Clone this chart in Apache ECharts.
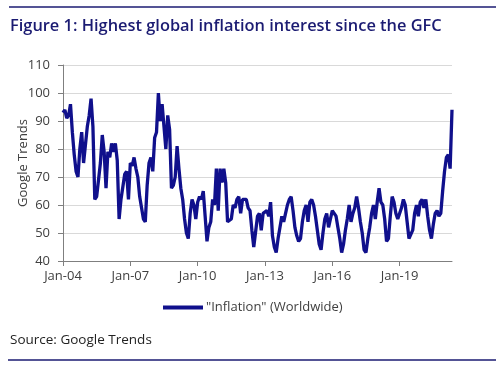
<!DOCTYPE html>
<html>
<head>
<meta charset="utf-8">
<script src="https://cdn.jsdelivr.net/npm/echarts@6/dist/echarts.min.js"></script>
<style>
html,body{margin:0;padding:0;background:#fff;}
#c{width:500px;height:367px;}
</style>
</head>
<body>
<div id="c"></div>
<script>
var titleText = 'Figure 1: Highest global inflation interest since the GFC';
var sourceText = 'Source: Google Trends';
var seriesName = '"Inflation" (Worldwide)';
var yAxisName = 'Google Trends';
var startYear = 2004;
var monthNames = ['Jan','Feb','Mar','Apr','May','Jun','Jul','Aug','Sep','Oct','Nov','Dec'];
var yTicks = [40, 50, 60, 70, 80, 90, 100, 110];
// monthly Google Trends values, Jan-04 .. May-21
var inflation = [
 93, 94, 91, 92, 96, 86, 78, 72, 70, 80, 86, 75,
 75, 88, 92, 98, 88, 62, 63, 63, 75, 85, 79, 66,
 79, 77, 82, 79, 82, 76, 55, 62, 62, 71, 72, 62,
 75, 74, 77, 73, 70, 63, 59, 55, 54, 67, 75, 77,
 72, 84, 86, 100, 90, 96, 88, 80, 92, 87, 66, 67,
 70, 81, 73, 66, 62, 55, 50, 48, 57, 62, 60, 55,
 61, 63, 62, 65, 56, 47, 52, 54, 62, 60, 73, 58,
 73, 68, 73, 68, 54, 54, 55, 60, 59, 62, 63, 57,
 62, 62, 62, 59, 58, 51, 45, 45, 56, 57, 51, 57,
 57, 58, 56, 61, 49, 45, 43, 48, 52, 56, 54, 57,
 60, 62, 63, 58, 52, 49, 47, 48, 54, 58, 60, 54,
 61, 62, 60, 56, 51, 46, 44, 50, 55, 57, 52, 55,
 58, 57, 56, 52, 48, 43, 46, 51, 55, 60, 54, 57,
 59, 63, 59, 54, 50, 44, 43, 48, 52, 57, 60, 55,
 61, 66, 61, 60, 55, 47, 48, 56, 63, 61, 57, 55,
 55, 59, 62, 60, 54, 48, 48, 51, 57, 60, 56, 61,
 62, 59, 62, 56, 51, 48, 53, 57, 58, 56, 57, 65,
 72, 77, 78, 73, 94
];
var categories = [];
for (var i = 0; i < inflation.length; i++) {
  var y = startYear + Math.floor(i / 12);
  categories.push(monthNames[i % 12] + '-' + String(y).slice(2));
}
var navy = '#1b1b72';
var lineColor = '#10108c';
var font = 'Open Sans';
var chart = echarts.init(document.getElementById('c'));
chart.setOption({
  animation: false,
  backgroundColor: '#fff',
  textStyle: {fontFamily: font},
  title: [
    {text: titleText, left: 10, top: 18, padding: 0,
     textStyle: {color: navy, fontSize: 16.4, fontWeight: 600, fontFamily: font}},
    {text: sourceText, left: 10, top: 333, padding: 0,
     textStyle: {color: '#222', fontSize: 13.5, fontWeight: 'normal', fontFamily: font}}
  ],
  graphic: [
    {type: 'line', shape: {x1: 9, y1: 7, x2: 496, y2: 7}, style: {stroke: navy, lineWidth: 1.5}},
    {type: 'line', shape: {x1: 8, y1: 360, x2: 496, y2: 360}, style: {stroke: navy, lineWidth: 1.5}}
  ],
  legend: {
    data: [seriesName], top: 296, left: 158,
    icon: 'rect', itemWidth: 40, itemHeight: 4, itemGap: 4,
    textStyle: {color: '#404040', fontSize: 13, fontFamily: font, padding: [0, 0, 0, -2]}
  },
  grid: {left: 63, right: 48, top: 65, bottom: 106},
  xAxis: {
    type: 'category', data: categories, boundaryGap: false,
    axisLine: {lineStyle: {color: '#7f7f7f'}},
    axisTick: {interval: 35, length: 5, lineStyle: {color: '#7f7f7f'}},
    axisLabel: {interval: 35, color: '#404040', fontSize: 13, margin: 9, fontFamily: font},
    splitLine: {show: false}
  },
  yAxis: {
    type: 'value', min: yTicks[0], max: yTicks[yTicks.length - 1], interval: 10,
    name: yAxisName, nameLocation: 'middle', nameGap: 33, nameMoveOverlap: false,
    nameTextStyle: {color: '#404040', fontSize: 13, fontFamily: font},
    axisLine: {show: true, lineStyle: {color: '#7f7f7f'}},
    axisTick: {show: true, length: 5, lineStyle: {color: '#7f7f7f'}},
    axisLabel: {color: '#404040', fontSize: 13, margin: 13, fontFamily: font},
    splitLine: {lineStyle: {color: '#d9d9d9'}}
  },
  series: [{
    name: seriesName, type: 'line', data: inflation, symbol: 'none',
    lineStyle: {color: lineColor, width: 3.3}, itemStyle: {color: lineColor}
  }]
});
</script>
</body>
</html>
